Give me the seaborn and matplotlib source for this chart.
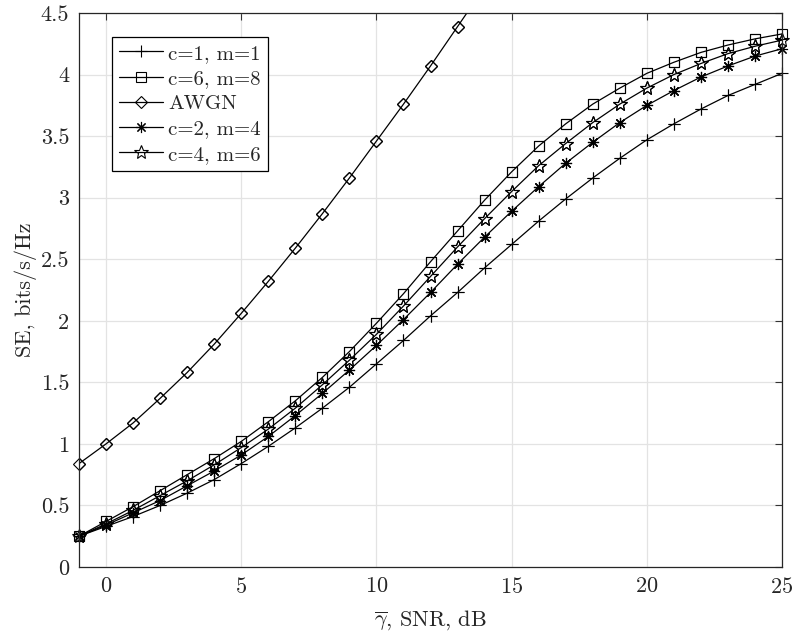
import matplotlib
matplotlib.use("Agg")
import matplotlib.pyplot as plt
import seaborn as sns
import pandas as pd
from matplotlib.ticker import FuncFormatter

snr = list(range(-1, 26))
se_c1m1 = [0.25, 0.33, 0.41, 0.50, 0.60, 0.71, 0.84, 0.98, 1.13, 1.29, 1.46, 1.65, 1.84, 2.04,
           2.23, 2.43, 2.62, 2.81, 2.99, 3.16, 3.32, 3.47, 3.60, 3.72, 3.83, 3.92, 4.01]
se_c6m8 = [0.25, 0.37, 0.49, 0.62, 0.75, 0.88, 1.02, 1.18, 1.35, 1.54, 1.75, 1.98, 2.22, 2.48,
           2.73, 2.98, 3.21, 3.42, 3.60, 3.76, 3.89, 4.01, 4.10, 4.18, 4.24, 4.29, 4.33]
se_c2m4 = [0.25, 0.34, 0.44, 0.54, 0.66, 0.78, 0.91, 1.06, 1.23, 1.41, 1.60, 1.80, 2.01, 2.23,
           2.46, 2.68, 2.89, 3.09, 3.28, 3.45, 3.61, 3.75, 3.87, 3.98, 4.07, 4.15, 4.21]
se_c4m6 = [0.25, 0.35, 0.46, 0.58, 0.70, 0.83, 0.97, 1.12, 1.29, 1.48, 1.68, 1.89, 2.12, 2.36,
           2.60, 2.83, 3.05, 3.26, 3.44, 3.61, 3.76, 3.89, 4.00, 4.09, 4.17, 4.23, 4.28]
snr_awgn = list(range(-1, 15))
se_awgn = [0.84, 1.00, 1.17, 1.37, 1.58, 1.81, 2.06, 2.32, 2.59, 2.87, 3.16, 3.46, 3.76, 4.07,
           4.39, 4.71]

xticks = [0, 5, 10, 15, 20, 25]
yticks = [0, 0.5, 1, 1.5, 2, 2.5, 3, 3.5, 4, 4.5]
YMAX = 4.5

sns.set_style("white")
plt.rcParams["font.family"] = ["serif"]
plt.rcParams["font.serif"] = ["cmr10", "DejaVu Serif"]
plt.rcParams["mathtext.fontset"] = "cm"
plt.rcParams["axes.formatter.use_mathtext"] = True

fig = plt.figure(figsize=(7.95, 6.35), dpi=100)
ax = fig.add_axes([0.0994, 0.1071, 0.8843, 0.8724])

series = [
    ("c=1, m=1", snr, se_c1m1, "+", 8),
    ("c=6, m=8", snr, se_c6m8, "s", 7),
    ("AWGN", snr_awgn, se_awgn, "D", 6),
    ("c=2, m=4", snr, se_c2m4, (8, 2, 0), 8),
    ("c=4, m=6", snr, se_c4m6, "*", 10),
]
for label, xs, ys, mk, ms in series:
    df = pd.DataFrame({"x": xs, "y": ys})
    sns.lineplot(data=df, x="x", y="y", ax=ax, color="black", lw=0.9,
                 marker=mk, markersize=ms, fillstyle="none", markeredgecolor="black",
                 markeredgewidth=0.8, label=label)
    # unclipped markers for points inside the y-range (so edge markers are whole)
    dfm = df[df["y"] <= YMAX]
    n_before = len(ax.lines)
    sns.lineplot(data=dfm, x="x", y="y", ax=ax, color="black", lw=0,
                 marker=mk, markersize=ms, fillstyle="none", markeredgecolor="black",
                 markeredgewidth=0.8, legend=False)
    for ln in ax.lines[n_before:]:
        ln.set_clip_on(False)

ax.set_xlim(-1, 25)
ax.set_ylim(0, YMAX)
ax.set_xticks(xticks)
ax.set_yticks(yticks)
ax.yaxis.set_major_formatter(FuncFormatter(lambda v, p: f"{v:g}"))
ax.grid(True, color="#e3e3e3", lw=0.9)
ax.tick_params(direction="in", length=5, labelsize=16, top=True, right=True,
               color="#333333", pad=7)
for s in ax.spines.values():
    s.set_color("#262626")
    s.set_linewidth(0.9)

ax.set_xlabel(r"$\overline{\gamma}$, SNR, dB", fontsize=16, labelpad=8)
ax.set_ylabel("SE, bits/s/Hz", fontsize=16, labelpad=3)

leg = ax.legend(loc="upper left", bbox_to_anchor=(0.047, 0.957), borderaxespad=0,
                fontsize=15, fancybox=False, framealpha=1, edgecolor="black",
                handlelength=2.1, handletextpad=0.25, labelspacing=0.32, borderpad=0.35)
leg.get_frame().set_linewidth(0.9)

fig.savefig("out.png", dpi=100)
